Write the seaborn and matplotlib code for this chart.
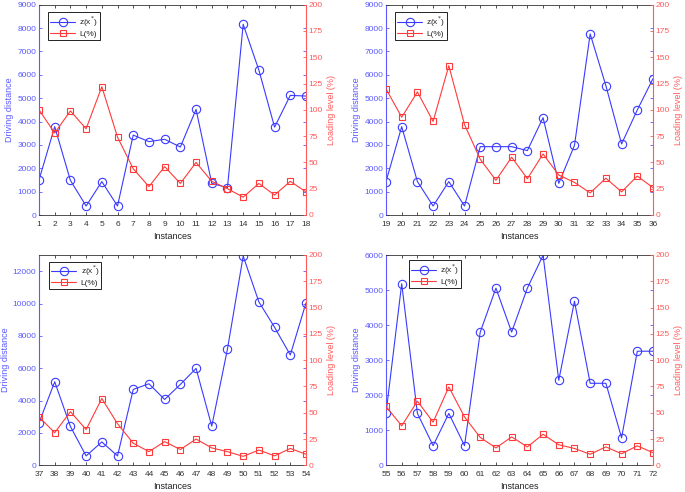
import matplotlib
matplotlib.use("Agg")
import matplotlib.pyplot as plt
import seaborn as sns
import pandas as pd
import numpy as np

sns.set_style("ticks")
plt.rcParams['font.family'] = ['Liberation Sans', 'DejaVu Sans']

inst1 = list(range(1, 19))
z1 = [1500, 3780, 1480, 385, 1430, 385, 3420, 3140, 3240, 2910, 4520, 1355, 1170, 8160, 6200, 3760, 5120, 5090]
L1 = [100, 78, 99, 82, 122, 74, 44, 27, 46, 30, 50, 32, 25, 17, 30, 19, 32, 22]

inst2 = list(range(19, 37))
z2 = [1430, 3780, 1430, 385, 1430, 385, 2925, 2925, 2925, 2755, 4165, 1355, 2980, 7750, 5535, 3040, 4495, 5835]
L2 = [120, 93, 117, 89, 142, 86, 53, 33, 55, 34.5, 58, 38, 31, 21, 35, 22, 37, 26]

inst3 = list(range(37, 55))
z3 = [2620, 5165, 2400, 580, 1445, 580, 4690, 5040, 4070, 5000, 5990, 2420, 7190, 12930, 10100, 8530, 6820, 10040]
L3 = [46, 31, 51, 34, 63.5, 39.5, 21, 13, 22.5, 15, 25, 16.5, 13, 8.5, 14.5, 9, 16, 10.5]

inst4 = list(range(55, 73))
z4 = [1480, 5180, 1480, 560, 1480, 560, 3800, 5055, 3800, 5055, 5990, 2425, 4680, 2340, 2340, 785, 3255, 3255]
L4 = [56, 37.5, 61, 41, 74.5, 46, 26.5, 16.5, 27, 17.5, 29.5, 19.5, 16, 10.5, 17.5, 11, 18.5, 12]

left_max = [9000, 9000, 13000, 6000]
left_step = [1000, 1000, 2000, 1000]
left_top_tick = [9000, 9000, 12000, 6000]

BLUE = '#3a3aff'
BLUE_T = '#5a5aff'
RED = '#ff3a3a'
RED_T = '#ff5a5a'

fig = plt.figure(figsize=(6.85, 4.92), dpi=100)
W, H = 685, 492
boxes = [(39, 4.7, 306, 215), (386, 4.7, 653, 215), (39, 255, 306, 465.3), (386, 255, 653, 465.3)]
leg_pos = [(0.034, 0.965), (0.034, 0.965), (0.039, 0.968), (0.086, 0.976)]

data = [(inst1, z1, L1), (inst2, z2, L2), (inst3, z3, L3), (inst4, z4, L4)]

for i, ((x0, y0, x1, y1), (inst, z, L)) in enumerate(zip(boxes, data)):
    ax = fig.add_axes([x0 / W, 1 - y1 / H, (x1 - x0) / W, (y1 - y0) / H])
    ax2 = ax.twinx()
    df = pd.DataFrame({'inst': inst, 'z': z, 'L': L})
    sns.lineplot(data=df, x='inst', y='z', ax=ax, color=BLUE, lw=0.8, marker='o',
                 markersize=6, markerfacecolor='none', markeredgecolor=BLUE,
                 markeredgewidth=0.8, label=r'z(x$^{*}$)', legend=False)
    sns.lineplot(data=df, x='inst', y='L', ax=ax2, color=RED, lw=0.8, marker='s',
                 markersize=5, markerfacecolor='none', markeredgecolor=RED,
                 markeredgewidth=0.8, label='L(%)', legend=False)
    ax.set_xlim(inst[0], inst[-1])
    ax.set_xticks(inst)
    ax.set_ylim(0, left_max[i])
    ax.set_yticks(np.arange(0, left_top_tick[i] + 1, left_step[i]))
    ax2.set_ylim(0, 200)
    ax2.set_yticks(np.arange(0, 201, 25))

    ax.set_xlabel('Instances', fontsize=6.5, labelpad=3, color='#222222')
    ax.set_ylabel('Driving distance', fontsize=6.5, color=BLUE_T, labelpad=2)
    ax2.set_ylabel('Loading level (%)', fontsize=6.5, color=RED_T, labelpad=3)

    ax.tick_params(axis='x', direction='in', length=2.5, width=0.6, labelsize=6,
                   top=True, pad=4, colors='#333333')
    ax.tick_params(axis='y', direction='in', length=2.5, width=0.6, labelsize=6,
                   colors=BLUE_T, right=True, pad=2)
    ax2.tick_params(axis='y', direction='in', length=2.5, width=0.6, labelsize=6,
                    colors=RED_T, pad=2)
    for sp in ['top', 'bottom']:
        ax.spines[sp].set_color('#333333')
        ax.spines[sp].set_linewidth(0.6)
    ax.spines['left'].set_color(BLUE_T)
    ax.spines['left'].set_linewidth(0.8)
    ax.spines['right'].set_visible(False)
    ax2.spines['left'].set_visible(False)
    ax2.spines['top'].set_visible(False)
    ax2.spines['bottom'].set_visible(False)
    ax2.spines['right'].set_color(RED_T)
    ax2.spines['right'].set_linewidth(0.8)
    ax.set_facecolor('white')
    ax2.patch.set_visible(False)

    h1, l1 = ax.get_legend_handles_labels()
    h2, l2 = ax2.get_legend_handles_labels()
    leg = ax2.legend(h1 + h2, l1 + l2, loc='upper left', bbox_to_anchor=leg_pos[i],
                     fontsize=6, frameon=True, fancybox=False, edgecolor='#222222',
                     framealpha=1, handlelength=3.0, borderpad=0.25, labelspacing=0.15,
                     handletextpad=0.5, borderaxespad=0)
    leg.get_frame().set_linewidth(0.7)

fig.savefig('out.png', dpi=100)
